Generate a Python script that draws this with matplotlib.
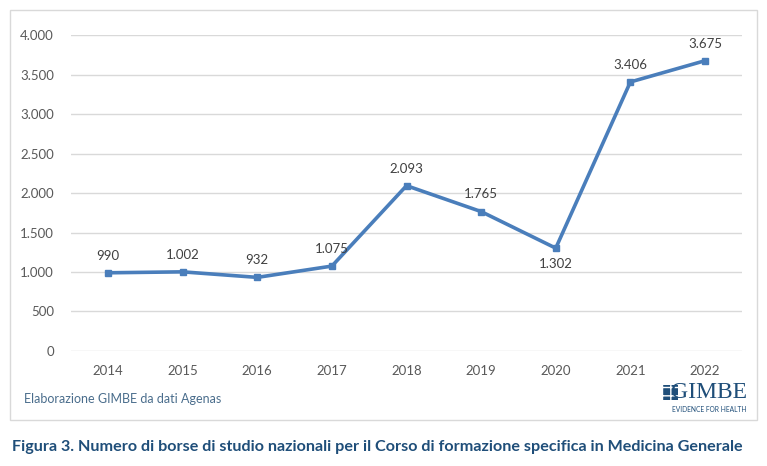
import matplotlib.pyplot as plt
from matplotlib.patches import Rectangle
from matplotlib.ticker import FuncFormatter

plt.rcParams['font.family'] = ['Lato', 'DejaVu Sans']

# Dati: borse di studio nazionali MMG
anni = ['2014', '2015', '2016', '2017', '2018', '2019', '2020', '2021', '2022']
borse = [990, 1002, 932, 1075, 2093, 1765, 1302, 3406, 3675]
yticks = [0, 500, 1000, 1500, 2000, 2500, 3000, 3500, 4000]


def fmt_it(v, pos=None):
    return f'{int(v):,}'.replace(',', '.')


line_col = '#4a7ebb'
grid_col = '#d9d9d9'
text_col = '#595959'

fig = plt.figure(figsize=(7.67, 4.66), dpi=100)

# outer chart box
fig.patches.append(Rectangle((10 / 767, 1 - 420 / 466), 747 / 767, 410 / 466,
                             transform=fig.transFigure, fill=False,
                             edgecolor='#d9d9d9', linewidth=1))

ax = fig.add_axes([0.0922, 0.2468, 0.8756, 0.678])
x = list(range(len(anni)))
ax.plot(x, borse, color=line_col, linewidth=2.6, marker='s', markersize=5,
        markerfacecolor=line_col, markeredgecolor=line_col, zorder=3)

for xi, v in zip(x, borse):
    if v == 1302:
        ax.annotate(fmt_it(v), (xi, v), xytext=(0, -7), textcoords='offset points',
                    ha='center', va='top', fontsize=9.5, color='#404040')
    else:
        ax.annotate(fmt_it(v), (xi, v), xytext=(0, 8), textcoords='offset points',
                    ha='center', va='bottom', fontsize=9.5, color='#404040')

ax.set_xlim(-0.5, len(anni) - 0.5)
ax.set_ylim(0, 4000)
ax.set_yticks(yticks)
ax.yaxis.set_major_formatter(FuncFormatter(fmt_it))
ax.set_xticks(x)
ax.set_xticklabels(anni)
ax.tick_params(axis='both', length=0, labelsize=9.5, labelcolor=text_col)
ax.tick_params(axis='x', pad=10)
ax.tick_params(axis='y', pad=12)
ax.grid(axis='y', color=grid_col, linewidth=1)
ax.set_axisbelow(True)
for s in ax.spines.values():
    s.set_visible(False)

fig.text(24 / 767, 1 - 399 / 466, 'Elaborazione GIMBE da dati Agenas',
         fontsize=9, color='#4a6d8c', va='center', ha='left')

# logo GIMBE
fig.text(747 / 767, 1 - 392 / 466, 'GIMBE', family='Liberation Serif',
         fontsize=17, color='#1f4e79', ha='right', va='center')
fig.patches.append(Rectangle((663 / 767, 1 - 400 / 466), 15 / 767, 15 / 466,
                             transform=fig.transFigure, facecolor='#1f4e79',
                             edgecolor='white', linewidth=0, hatch='++'))
fig.text(746 / 767, 1 - 409 / 466, 'EVIDENCE FOR HEALTH', fontsize=4.8,
         color='#1f4e79', ha='right', va='center')

fig.text(12 / 767, 1 - 447 / 466,
         'Figura 3. Numero di borse di studio nazionali per il Corso di formazione specifica in Medicina Generale',
         fontsize=11.6, fontweight='bold', color='#1f4e79', ha='left', va='center')

fig.savefig('out.png', dpi=100)
